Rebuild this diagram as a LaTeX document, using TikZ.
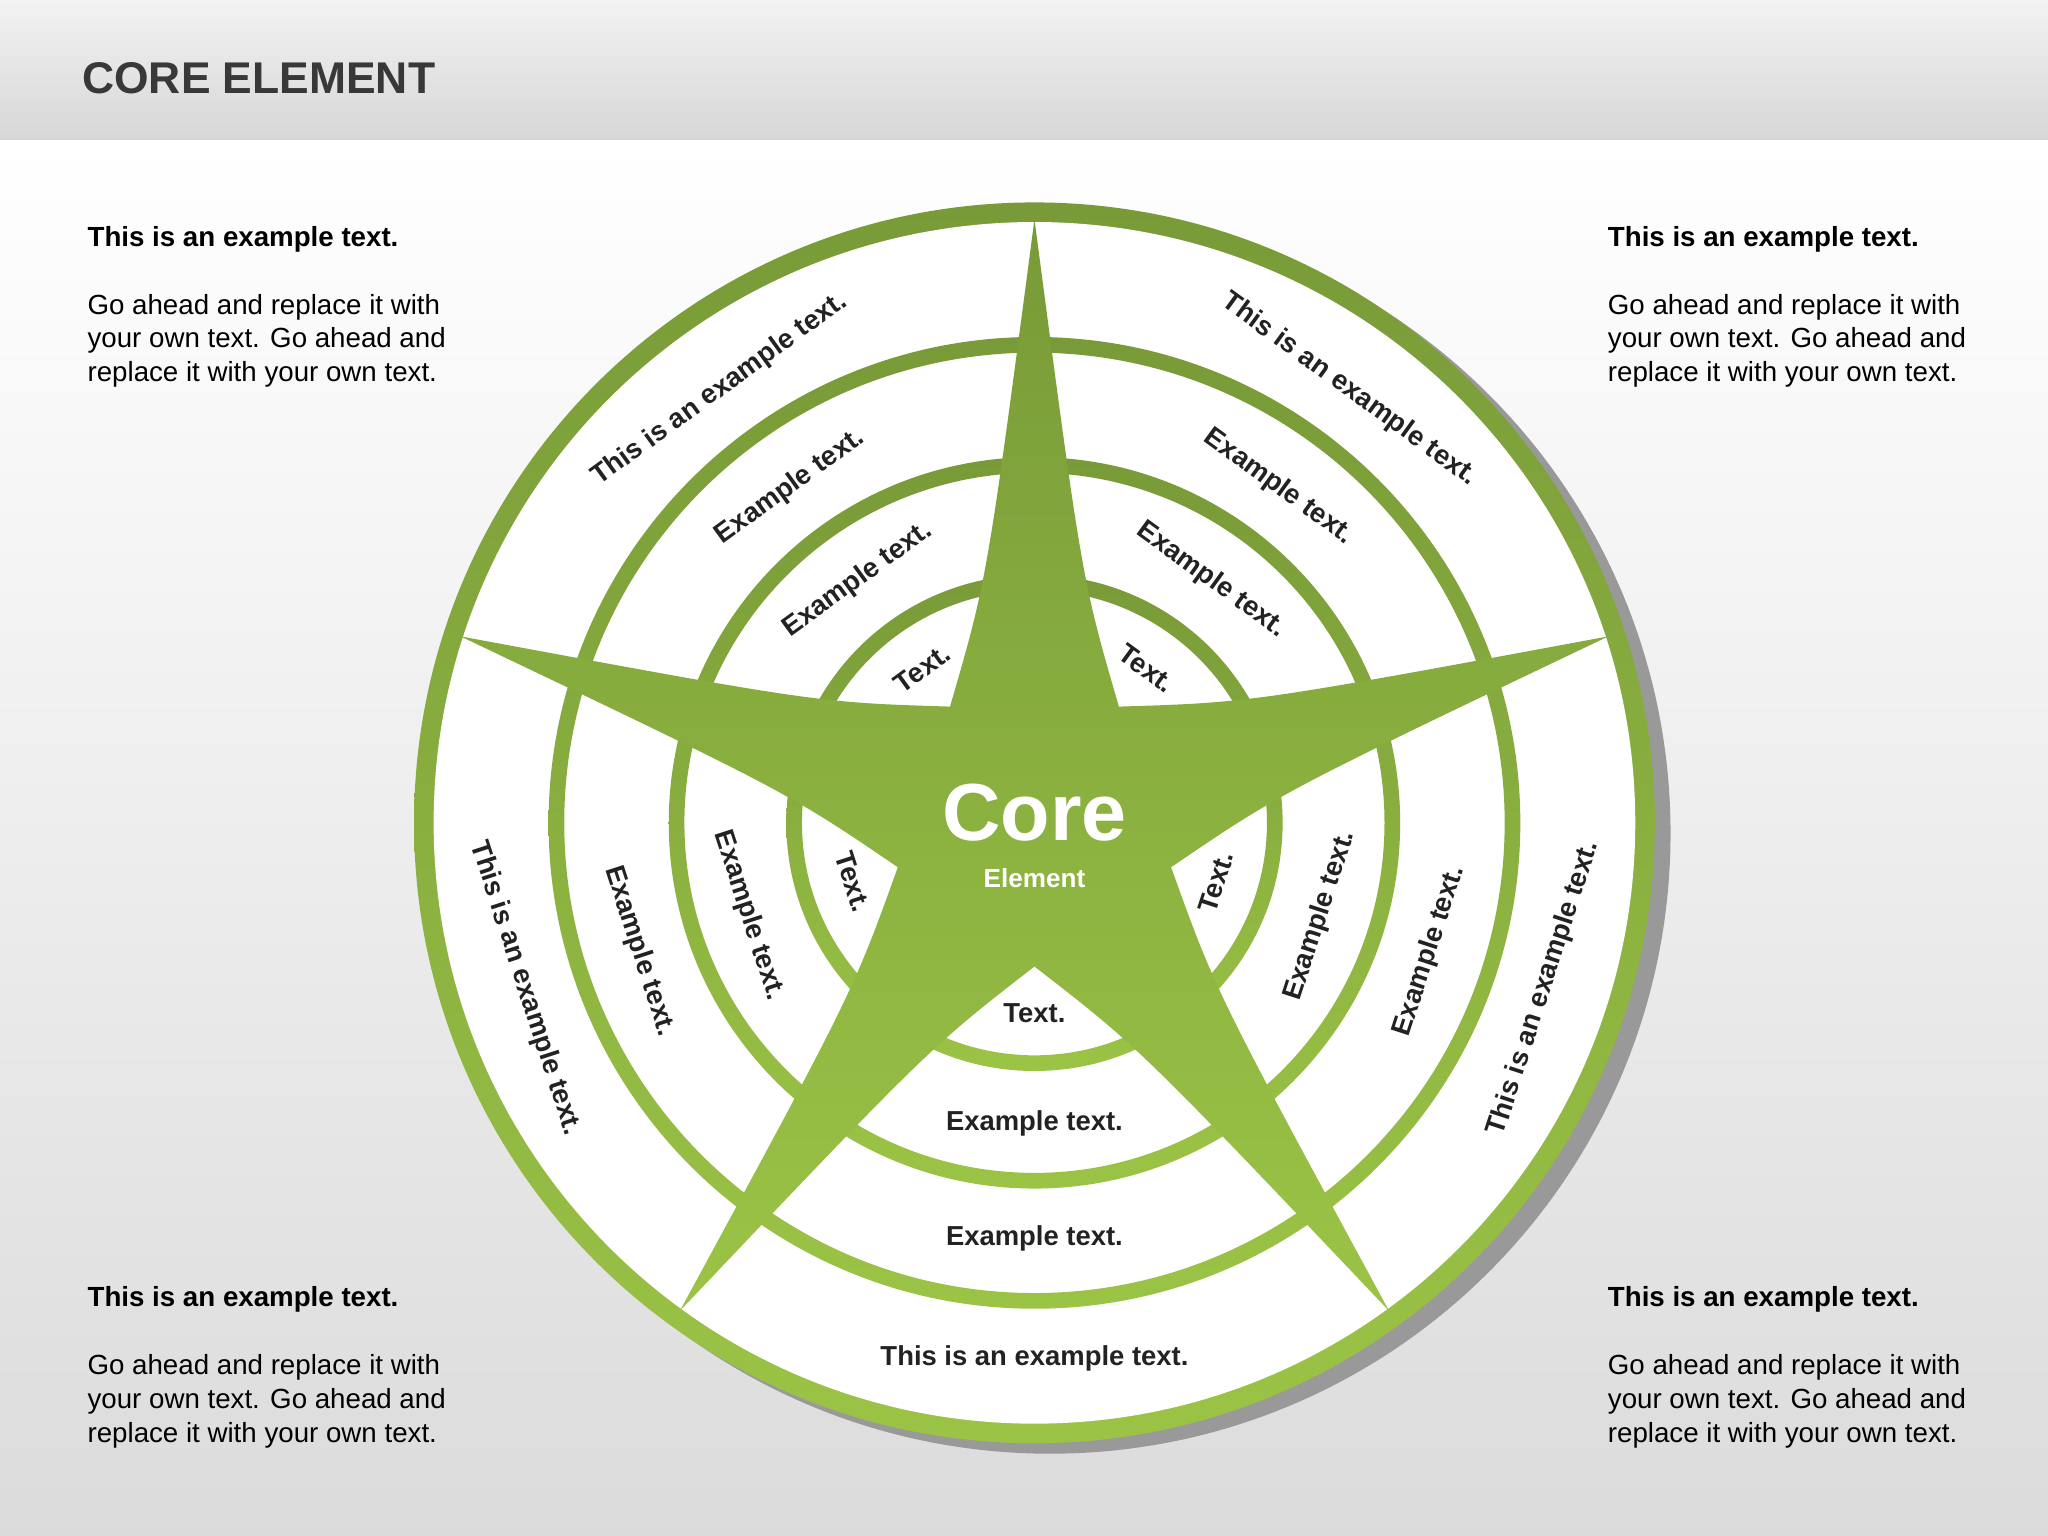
\documentclass[tikz,border=0pt]{standalone}
\usepackage{fontspec}
\setmainfont{Liberation Sans}
\begin{document}
\begin{tikzpicture}[
  gr/.style={top color=green1,bottom color=green2},
  lab/.style={font=\fontsize{10.5}{12}\selectfont\bfseries,text=txt},
  corner/.style={anchor=north west,align=left,font=\fontsize{10.6}{13}\selectfont,text=black}]
\definecolor{green1}{HTML}{789A38}
\definecolor{green2}{HTML}{9BC446}
\definecolor{txt}{HTML}{222222}
\useasboundingbox (0,0) rectangle (784pt,588pt);
\shade[top color=white,bottom color=black!14] (0,0) rectangle (784pt,534pt);
\shade[top color=black!5,bottom color=black!16] (0,533pt) rectangle (784pt,588pt);
\fill[white] (0,533pt) rectangle (784pt,534.5pt);
\node[anchor=west,font=\fontsize{17}{20}\selectfont\bfseries,text=black!78] (title) at (28pt,558pt) {CORE ELEMENT};
% corner texts
\node[corner] (tl) at (30pt,505pt) {\textbf{This is an example text.}\\[13pt]Go ahead and replace it with\\your own text. Go ahead and\\replace it with your own text.};
\node[corner] (tr) at (612pt,505pt) {\textbf{This is an example text.}\\[13pt]Go ahead and replace it with\\your own text. Go ahead and\\replace it with your own text.};
\node[corner] (bl) at (30pt,99pt) {\textbf{This is an example text.}\\[13pt]Go ahead and replace it with\\your own text. Go ahead and\\replace it with your own text.};
\node[corner] (br) at (612pt,99pt) {\textbf{This is an example text.}\\[13pt]Go ahead and replace it with\\your own text. Go ahead and\\replace it with your own text.};
\begin{scope}[shift={(396pt,273pt)}]
\fill[black!40] (6pt,-4pt) circle[radius=237.5pt];
\shade[gr] (0,0) circle[radius=237.5pt];
\fill[white] (0,0) circle[radius=230pt];
\foreach \r in {183,137,92}{
  \shade[gr,even odd rule] (0,0) circle[radius=\r pt+3pt] circle[radius=\r pt-3pt];}
\shade[gr] (90:231pt) .. controls (101:95pt) .. (126:55pt) .. controls (151:95pt) .. (162:231pt)
  .. controls (173:95pt) .. (198:55pt) .. controls (223:95pt) .. (234:231pt)
  .. controls (245:95pt) .. (270:55pt) .. controls (295:95pt) .. (306:231pt)
  .. controls (317:95pt) .. (342:55pt) .. controls (367:95pt) .. (18:231pt)
  .. controls (29:95pt) .. (54:55pt) .. controls (79:95pt) .. cycle
  (48pt,0) arc[start angle=0,end angle=360,radius=48pt];
\node[font=\fontsize{31}{34}\selectfont\bfseries,text=white] (core) at (0,4pt) {Core};
\node[font=\fontsize{10}{12}\selectfont\bfseries,text=white] (el) at (0,-21pt) {Element};
\foreach \a/\rot in {54/-36,126/36,198/-72,270/0,342/72}{
  \node[lab,rotate=\rot] at (\a:205pt) {This is an example text.};
  \node[lab,rotate=\rot] at (\a:159pt) {Example text.};
  \node[lab,rotate=\rot] at (\a:115pt) {Example text.};
  \node[lab,rotate=\rot] at (\a:73pt) {Text.};
}
\end{scope}
\end{tikzpicture}
\end{document}
